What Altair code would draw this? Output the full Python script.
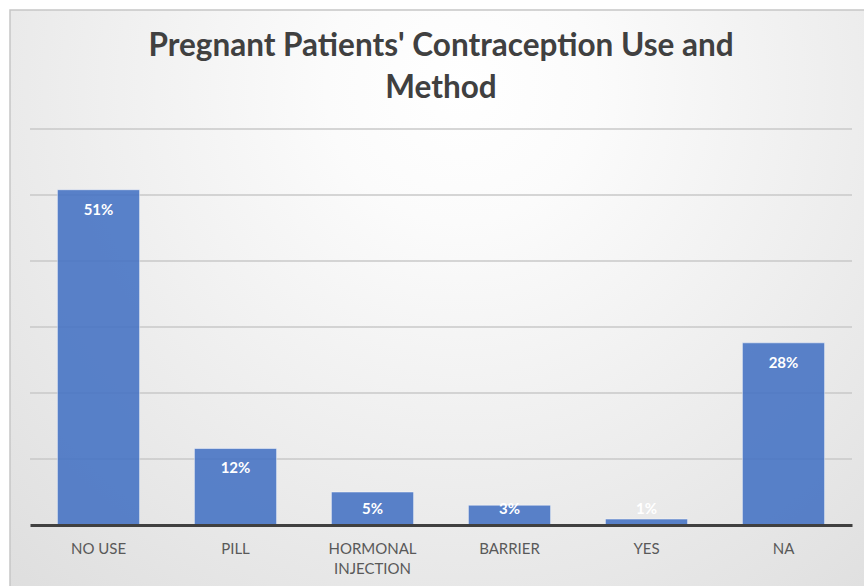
import altair as alt
import pandas as pd

categories = ["NO USE", "PILL", "HORMONAL INJECTION", "BARRIER", "YES", "NA"]
shares = [0.508, 0.116, 0.050, 0.030, 0.009, 0.276]
grid_ticks = [0.1, 0.2, 0.3, 0.4, 0.5, 0.6]
title_lines = ["Pregnant Patients' Contraception Use and", "Method"]

W, H = 822, 396

df = pd.DataFrame({"category": categories, "share": shares})
grid_df = pd.DataFrame({"tick": grid_ticks})
bg_df = pd.DataFrame({"k": [0]})

yscale = alt.Scale(domain=[0, 0.6], nice=False, zero=True)
xenc = alt.X(
    "category:N",
    sort=categories,
    scale=alt.Scale(paddingInner=0.4, paddingOuter=0.2),
    axis=alt.Axis(
        title=None,
        labelAngle=0,
        ticks=False,
        grid=False,
        domainColor="#404040",
        domainWidth=3,
        labelColor="#595959",
        labelFont="Lato",
        labelFontSize=15,
        labelPadding=16,
        labelLineHeight=20,
        labelExpr="datum.label == 'HORMONAL INJECTION' ? ['HORMONAL', 'INJECTION'] : datum.label",
        zindex=1,
    ),
)

bg = alt.Chart(bg_df).mark_rect(
    fill=alt.RadialGradient(
        gradient="radial",
        stops=[
            alt.GradientStop(color="#ffffff", offset=0),
            alt.GradientStop(color="#fbfbfb", offset=0.15),
            alt.GradientStop(color="#d2d2d2", offset=1),
        ],
        x1=0.5, y1=0.25, r1=0,
        x2=0.5, y2=0.25, r2=1,
    ),
    stroke="#c6c6c6",
    strokeWidth=1.5,
).encode(
    x=alt.value(-20), x2=alt.value(W + 60),
    y=alt.value(-119), y2=alt.value(H + 90),
)

grid = alt.Chart(grid_df).mark_rule(color="#c8c8c8", strokeWidth=1.5).encode(
    y=alt.Y("tick:Q", scale=yscale, axis=None),
    x=alt.value(0),
    x2=alt.value(W),
)

bars = alt.Chart(df).mark_bar(
    color="#4472C4", opacity=0.88, stroke="#ffffff", strokeOpacity=0.5, strokeWidth=1
).encode(
    x=xenc,
    y=alt.Y("share:Q", scale=yscale, axis=None),
)

labels = alt.Chart(df).transform_calculate(
    label_at="max(datum.share - 0.0303, 0.0242)"
).mark_text(
    color="#ffffff", font="Lato", fontSize=15, fontWeight="bold", baseline="middle", align="center"
).encode(
    x=alt.X("category:N", sort=categories),
    y=alt.Y("label_at:Q", scale=yscale, axis=None),
    text=alt.Text("share:Q", format=".0%"),
)

chart = alt.layer(bg, grid, bars, labels).properties(
    width=W,
    height=H,
    title=alt.TitleParams(
        text=title_lines,
        font="Lato",
        fontSize=31.5,
        fontWeight="bold",
        color="#404040",
        lineHeight=42,
        offset=26,
        dy=121,
        anchor="middle",
        zindex=1,
    ),
    padding={"left": 30, "top": 129, "right": 12, "bottom": 61},
    autosize=alt.AutoSizeParams(type="none"),
    background="#ffffff",
).configure_view(stroke=None)

chart.save("out.html", embed_options={"renderer": "svg", "actions": False})
